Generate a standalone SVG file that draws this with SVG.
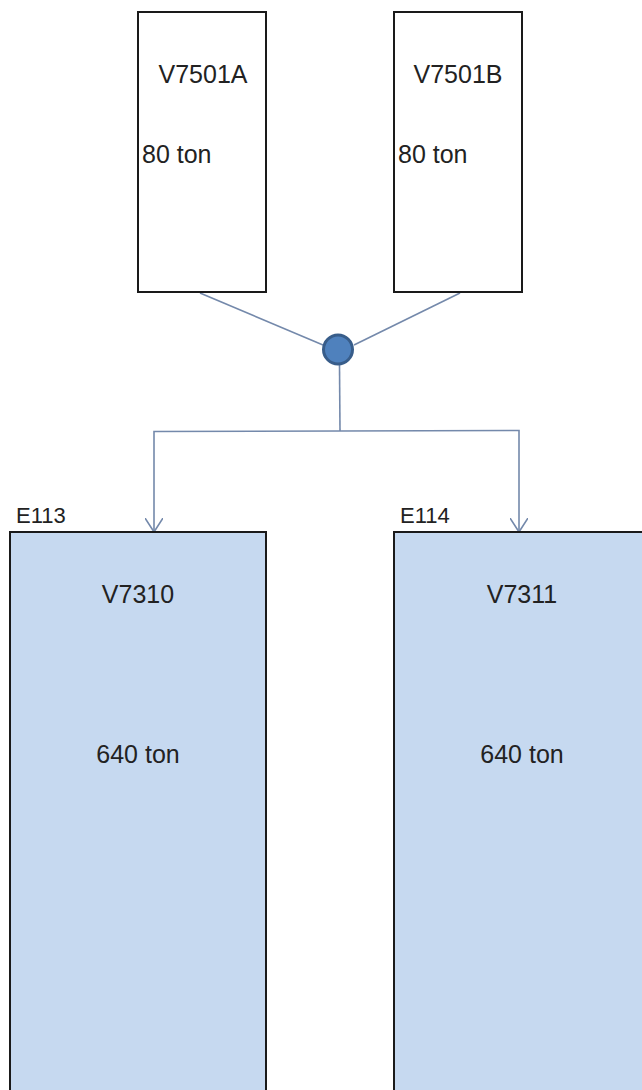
<svg xmlns="http://www.w3.org/2000/svg" width="642" height="1090" viewBox="0 0 642 1090">
  <defs>
    <style>
      .box { fill: #ffffff; stroke: #1a1a1a; stroke-width: 2; }
      .tank { fill: #c6d9f0; stroke: #1a1a1a; stroke-width: 2; }
      .lbl { font-family: "Liberation Sans", Arial, sans-serif; font-size: 25px; fill: #222222; }
      .tag { font-family: "Liberation Sans", Arial, sans-serif; font-size: 22px; fill: #222222; }
      .mid { text-anchor: middle; }
      .pipe { fill: none; stroke: #7489ab; stroke-width: 1.6; }
    </style>
    <marker id="arrow" markerWidth="22" markerHeight="18" refX="14" refY="9" orient="auto" markerUnits="userSpaceOnUse">
      <path d="M0,0 L14,9 L0,18" fill="none" stroke="#7489ab" stroke-width="1.6"/>
    </marker>
  </defs>
  <rect width="642" height="1090" fill="#ffffff"/>

  <g id="connectors">
    <line class="pipe" x1="200" y1="293" x2="323" y2="345"/>
    <line class="pipe" x1="460" y1="293" x2="354" y2="345"/>
    <line class="pipe" x1="339.5" y1="365" x2="340" y2="431"/>
    <polyline class="pipe" points="340,431 154,431.5 154,532" marker-end="url(#arrow)"/>
    <polyline class="pipe" points="340,431 519,430.5 519,532" marker-end="url(#arrow)"/>
  </g>

  <g id="V7501A">
    <rect class="box" x="138" y="12" width="128" height="280"/>
    <text class="lbl mid" x="203" y="83">V7501A</text>
    <text class="lbl" x="142" y="163">80 ton</text>
  </g>

  <g id="V7501B">
    <rect class="box" x="394" y="12" width="128" height="280"/>
    <text class="lbl mid" x="458" y="83">V7501B</text>
    <text class="lbl" x="398" y="163">80 ton</text>
  </g>

  <g id="junction">
    <circle cx="338" cy="349.5" r="14.5" fill="#4f81bd" stroke="#385d8a" stroke-width="3"/>
  </g>

  <g id="V7310">
    <rect class="tank" x="10" y="532" width="256" height="580"/>
    <text class="tag" x="16" y="523">E113</text>
    <text class="lbl mid" x="138" y="603">V7310</text>
    <text class="lbl mid" x="138" y="763">640 ton</text>
  </g>

  <g id="V7311">
    <rect class="tank" x="394" y="532" width="270" height="580"/>
    <text class="tag" x="400" y="523">E114</text>
    <text class="lbl mid" x="522" y="603">V7311</text>
    <text class="lbl mid" x="522" y="763">640 ton</text>
  </g>
</svg>
